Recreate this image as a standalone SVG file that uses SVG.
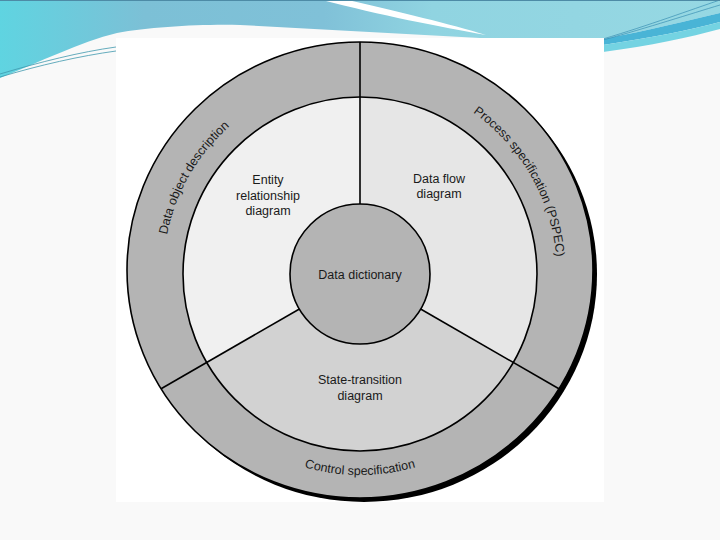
<svg xmlns="http://www.w3.org/2000/svg" width="720" height="540" viewBox="0 0 720 540">
  <style>
    .lbl { font-family: "Liberation Sans", Arial, sans-serif; font-size: 12.5px; fill: #1a1a1a; }
    .mid { text-anchor: middle; }
    .edge { stroke: #000; stroke-width: 1.6; }
    .ring { fill: #b4b4b4; }
  </style>
  <defs>
    <linearGradient id="band" x1="0" y1="0" x2="720" y2="0" gradientUnits="userSpaceOnUse">
      <stop offset="0" stop-color="#5fd4e1"/>
      <stop offset="0.2" stop-color="#7cc0d6"/>
      <stop offset="0.45" stop-color="#80c1d8"/>
      <stop offset="0.6" stop-color="#90d4e1"/>
      <stop offset="1" stop-color="#96d8e3"/>
    </linearGradient>
    <clipPath id="pic">
      <rect x="116" y="38" width="488" height="464"/>
    </clipPath>
    <path id="arcDOD" d="M189.4,372.5 A197,197 0 0,1 360,77"/>
    <path id="arcPS" d="M360,77 A197,197 0 0,1 530.6,372.5"/>
    <path id="arcCS" d="M185.9,374.5 A201,201 0 0,0 534.1,374.5"/>
  </defs>

  <g id="slide-background">
    <rect x="0" y="0" width="720" height="540" fill="#f9f9f9"/>
    <path d="M0,0 H720 V13 C690,20 650,30 603,39 L480,38 L240,25 C200,24 150,27 117,33 C80,42 40,62 0,78 Z" fill="url(#band)"/>
    <path d="M322,0 L348,0 C400,12 450,24 486,35 C440,27 380,15 322,0 Z" fill="#ffffff"/>
    <path d="M0,74 C40,62 80,52 116,47 M0,77 C40,65 80,56 116,51" fill="none" stroke="#3f98ad" stroke-width="0.8"/>
    <path d="M603,39 C650,30 690,20 720,13 L720,22 C690,30 650,38 603,45 Z" fill="#49b4d6"/>
    <path d="M603,45 C650,38 690,30 720,22 L720,29 C690,37 650,46 603,52 Z" fill="#74d3e2"/>
    <path d="M603,39 C650,25 690,10 720,0 M603,40 C650,27 690,14 720,5" fill="none" stroke="#3a8fb3" stroke-width="0.7"/>
    <line x1="0" y1="0.5" x2="720" y2="0.5" stroke="#4d8ba6" stroke-width="1"/>
    <rect x="116" y="38" width="488" height="464" fill="#ffffff"/>
  </g>

  <g clip-path="url(#pic)">
    <g id="outer-ring">
      <ellipse cx="364" cy="274" rx="233" ry="228" fill="#000"/>
      <ellipse cx="360" cy="270" rx="233" ry="228" class="ring edge"/>
    </g>

    <g id="entity-relationship-diagram">
      <path d="M360,274 L206.7,362.5 A177,177 0 0,1 360,97 Z" fill="#f0f0f0"/>
      <text class="lbl mid" x="268" y="184">Entity</text>
      <text class="lbl mid" x="268" y="200">relationship</text>
      <text class="lbl mid" x="268" y="215">diagram</text>
    </g>

    <g id="data-flow-diagram">
      <path d="M360,274 L360,97 A177,177 0 0,1 513.3,362.5 Z" fill="#e6e6e6"/>
      <text class="lbl mid" x="439" y="183">Data flow</text>
      <text class="lbl mid" x="439" y="198">diagram</text>
    </g>

    <g id="state-transition-diagram">
      <path d="M360,274 L513.3,362.5 A177,177 0 0,1 206.7,362.5 Z" fill="#d2d2d2"/>
      <text class="lbl mid" x="360" y="384">State-transition</text>
      <text class="lbl mid" x="360" y="400">diagram</text>
    </g>

    <circle cx="360" cy="274" r="177" fill="none" class="edge"/>

    <g id="data-object-description">
      <text class="lbl mid"><textPath href="#arcDOD" startOffset="50%">Data object description</textPath></text>
    </g>
    <g id="process-specification">
      <text class="lbl mid"><textPath href="#arcPS" startOffset="50%">Process specification (PSPEC)</textPath></text>
    </g>
    <g id="control-specification">
      <text class="lbl mid"><textPath href="#arcCS" startOffset="50%">Control specification</textPath></text>
    </g>

    <g id="connectors">
      <line class="edge" x1="360" y1="204" x2="360" y2="42"/>
      <line class="edge" x1="299.4" y1="309" x2="161.1" y2="388.8"/>
      <line class="edge" x1="420.6" y1="309" x2="558.9" y2="388.8"/>
    </g>

    <g id="data-dictionary">
      <circle cx="360" cy="274" r="70" fill="#b4b4b4" class="edge"/>
      <text class="lbl mid" x="360" y="279">Data dictionary</text>
    </g>
  </g>
</svg>
